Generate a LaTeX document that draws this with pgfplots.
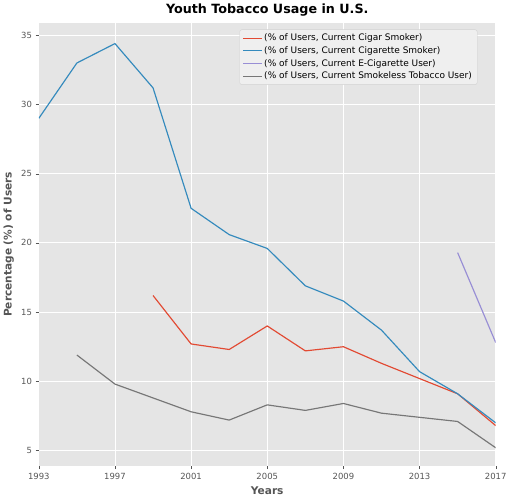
\documentclass[border=0pt]{standalone}
\usepackage{fontspec}
\setmainfont{DejaVu Sans}
\usepackage{pgfplots}
\pgfplotsset{compat=1.18}
\definecolor{bg}{HTML}{E5E5E5}
\definecolor{cr}{HTML}{E24A33}
\definecolor{cb}{HTML}{348ABD}
\definecolor{cp}{HTML}{988ED5}
\definecolor{cg}{HTML}{777777}
\definecolor{tx}{HTML}{555555}
\begin{document}
\begin{tikzpicture}
\begin{axis}[
  width=430bp, height=417bp, scale only axis,
  xmin=1993, xmax=2017, ymin=3.89, ymax=35.9,
  xtick={1993,1997,...,2017}, ytick={5,10,...,35},
  /pgf/number format/1000 sep={},
  /pgf/number format/assume math mode=true,
  axis background/.style={fill=bg},
  axis line style={draw=none},
  grid=major, major grid style={white, line width=0.8pt},
  tick style={tx}, major tick length=3pt,
  tick align=outside, xtick pos=bottom, ytick pos=left,
  ticklabel style={font=\fontsize{8}{10}\selectfont, text=tx},
  xlabel={\textbf{Years}}, ylabel={\textbf{Percentage (\%) of Users}},
  label style={font=\fontsize{10}{12}\selectfont, text=tx},
  title={\textbf{Youth Tobacco Usage in U.S.}},
  title style={font=\fontsize{12}{14}\selectfont, yshift=-3pt},
  legend style={at={(0.96,0.985)}, anchor=north east, fill=bg!60!white, draw=bg!80!gray, font=\fontsize{8.5}{10}\selectfont, rounded corners=2pt},
  legend cell align=left,
  cycle list={{cr,line width=1.1pt},{cb,line width=1.1pt},{cp,line width=1.1pt},{cg,line width=1.1pt}},
]
\addplot+[no marks] coordinates {(1999,16.2)(2001,12.7)(2003,12.3)(2005,14.0)(2007,12.2)(2009,12.5)(2011,11.3)(2013,10.2)(2015,9.1)(2017,6.8)};
\addlegendentry{(\% of Users, Current Cigar Smoker)}
\addplot+[no marks] coordinates {(1993,29.0)(1995,33.0)(1997,34.4)(1999,31.2)(2001,22.5)(2003,20.6)(2005,19.6)(2007,16.9)(2009,15.8)(2011,13.7)(2013,10.7)(2015,9.1)(2017,7.0)};
\addlegendentry{(\% of Users, Current Cigarette Smoker)}
\addplot+[no marks] coordinates {(2015,19.3)(2017,12.8)};
\addlegendentry{(\% of Users, Current E-Cigarette User)}
\addplot+[no marks] coordinates {(1995,11.9)(1997,9.8)(1999,8.8)(2001,7.8)(2003,7.2)(2005,8.3)(2007,7.9)(2009,8.4)(2011,7.7)(2013,7.4)(2015,7.1)(2017,5.2)};
\addlegendentry{(\% of Users, Current Smokeless Tobacco User)}
\end{axis}
\end{tikzpicture}
\end{document}
